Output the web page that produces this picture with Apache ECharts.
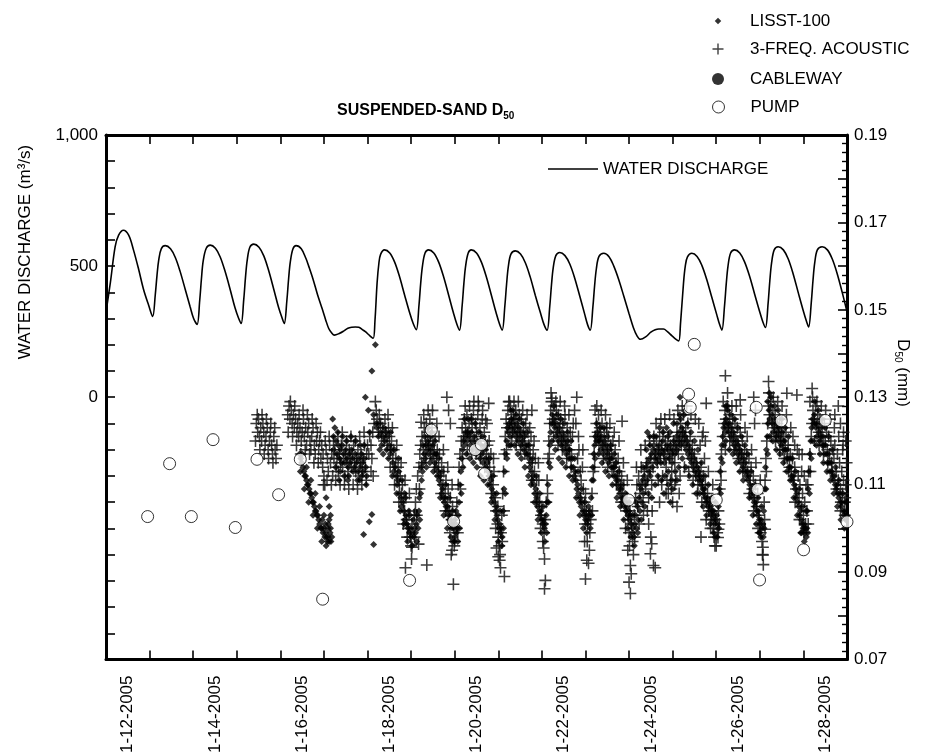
<!DOCTYPE html>
<html>
<head>
<meta charset="utf-8">
<title>Suspended-sand D50</title>
<script src="https://cdn.jsdelivr.net/npm/echarts@6/dist/echarts.min.js"></script>
<style>
  html, body { margin: 0; padding: 0; background: #fff; }
  #main { width: 938px; height: 756px; }
</style>
</head>
<body>
<div id="main"></div>
<script>
/* x values are decimal days of January 2005 */
var DAY_MIN = 12, DAY_MAX = 29;
var dateLabelDays = [12.5, 14.5, 16.5, 18.5, 20.5, 22.5, 24.5, 26.5, 28.5];

// water discharge, m3/s
var discharge = [
  [12.00,325],[12.10,437],[12.21,574],[12.29,618],[12.40,637],[12.52,618],[12.63,562],[12.75,487],[12.86,412],[12.98,350],
  [13.07,308],[13.13,390],[13.17,465],[13.21,524],[13.27,567],[13.36,578],[13.48,566],[13.59,533],[13.70,480],[13.82,410],[13.93,345],[14.01,300],
  [14.09,278],[14.15,369],[14.19,453],[14.23,520],[14.30,568],[14.39,580],[14.51,568],[14.62,535],[14.73,481],[14.85,410],[14.96,341],[15.04,302],
  [15.10,281],[15.16,372],[15.20,457],[15.24,523],[15.30,572],[15.39,584],[15.51,572],[15.62,539],[15.73,484],[15.85,411],[15.96,342],[16.04,302],
  [16.09,281],[16.15,370],[16.19,453],[16.23,518],[16.29,566],[16.36,578],[16.48,566],[16.59,528],[16.65,500],[16.75,450],[16.85,393],[16.96,337],
  [17.04,295],[17.11,262],[17.17,247],[17.24,237],[17.35,243],[17.45,252],[17.55,263],[17.64,267],[17.72,268],[17.80,267],[17.88,258],[17.95,250],[18.05,235],
  [18.13,225],[18.17,290],[18.22,437],[18.26,510],[18.30,545],[18.39,562],[18.51,550],[18.62,516],[18.73,462],[18.85,390],[18.97,320],[19.05,280],
  [19.12,258],[19.18,350],[19.22,435],[19.26,500],[19.32,550],[19.40,562],[19.52,550],[19.63,516],[19.74,462],[19.86,390],[19.97,322],[20.05,278],
  [20.11,256],[20.17,348],[20.21,433],[20.25,500],[20.31,550],[20.38,562],[20.50,550],[20.61,516],[20.72,462],[20.84,390],[20.95,322],[21.03,278],
  [21.09,256],[21.15,347],[21.19,431],[21.23,498],[21.29,546],[21.39,558],[21.51,546],[21.62,513],[21.73,460],[21.85,388],[21.97,320],[22.05,277],
  [22.12,256],[22.18,345],[22.22,428],[22.26,493],[22.32,540],[22.41,552],[22.53,540],[22.64,508],[22.75,456],[22.87,385],[22.98,318],[23.05,276],
  [23.11,256],[23.17,344],[23.21,426],[23.25,490],[23.31,537],[23.42,549],[23.54,536],[23.65,500],[23.76,450],[23.88,385],[24.00,318],[24.10,265],
  [24.18,235],[24.26,221],[24.38,230],[24.50,248],[24.60,257],[24.68,260],[24.79,260],[24.88,250],[24.98,235],[25.07,222],
  [25.14,215],[25.18,280],[25.25,437],[25.29,500],[25.34,535],[25.44,549],[25.56,537],[25.67,503],[25.78,450],[25.90,380],[26.01,316],[26.08,276],
  [26.13,256],[26.19,348],[26.23,433],[26.27,500],[26.33,550],[26.42,562],[26.54,550],[26.65,516],[26.76,464],[26.88,394],[26.99,330],[27.07,287],
  [27.13,266],[27.19,358],[27.23,445],[27.27,512],[27.33,562],[27.42,574],[27.54,562],[27.65,528],[27.76,473],[27.88,400],[27.99,334],[28.07,290],
  [28.12,268],[28.18,360],[28.22,446],[28.26,513],[28.32,562],[28.43,574],[28.55,562],[28.66,528],[28.77,474],[28.89,400],[29.00,326]
];

// LISST-100 D50, mm (core of each daily band)
var lisst = [
  [16.44,.117],[16.47,.116],[16.49,.115],[16.52,.114],[16.54,.113],[16.56,.112],[16.58,.112],[16.60,.111],[16.62,.110],[16.64,.110],
  [16.66,.109],[16.68,.108],[16.70,.108],[16.72,.107],[16.74,.106],[16.76,.106],[16.78,.105],[16.80,.104],[16.82,.104],[16.84,.103],
  [16.86,.103],[16.88,.102],[16.90,.101],[16.93,.100],[16.95,.100],[16.98,.099],[17.00,.100],[17.02,.098],[17.04,.099],[17.06,.098],
  [17.08,.097],[17.10,.098],[17.12,.097],[17.14,.099],[17.16,.097],[16.96,.102],[17.03,.101],[17.09,.100],[17.12,.102],[17.05,.107],[17.12,.105],[17.15,.103],
  [17.20,.125],[17.25,.123],[17.22,.118],[17.28,.120],[17.30,.117],[17.33,.119],[17.36,.116],[17.38,.118],[17.40,.115],[17.42,.119],
  [17.45,.117],[17.48,.115],[17.50,.118],[17.53,.116],[17.56,.114],[17.58,.117],[17.60,.115],[17.63,.118],[17.66,.116],[17.70,.114],
  [17.72,.117],[17.75,.115],[17.78,.113],[17.80,.116],[17.83,.114],[17.86,.117],[17.88,.115],[17.90,.113],[17.93,.116],[17.96,.114],
  [17.35,.111],[17.55,.111],[17.82,.111],[17.98,.112],
  [18.10,.136],[18.18,.142],[17.95,.130],[18.02,.127],[18.14,.126],[18.20,.124],[18.05,.122],[18.10,.1032],[18.04,.1015],[17.91,.0986],[18.14,.0963],
  [18.22,.123],[18.25,.121],[18.27,.124],[18.30,.122],[18.32,.119],[18.35,.121],[18.38,.123],[18.40,.120],[18.42,.122],[18.44,.118],[18.28,.118],[18.36,.117],
  [18.46,.121],[18.50,.119],[18.52,.117],[18.55,.118],[18.58,.115],[18.60,.113],[18.63,.114],[18.66,.112],[18.68,.110],[18.70,.111],
  [18.73,.108],[18.76,.107],[18.78,.105],[18.80,.106],[18.83,.104],[18.86,.102],[18.88,.103],[18.90,.101],[18.93,.100],[18.96,.099],
  [18.98,.100],[19.00,.098],[19.03,.099],[18.72,.113],[18.85,.108],[18.95,.104],
  [19.06,.098],[19.08,.100],[19.10,.099],[19.12,.101],[19.14,.103],[19.16,.100],[19.18,.104],[19.20,.102],
  [19.22,.108],[19.24,.111],[19.26,.113],[19.28,.115],[19.30,.117],[19.32,.116],[19.34,.119],[19.36,.118],[19.38,.120],[19.40,.117],
  [19.42,.119],[19.44,.121],[19.46,.118],[19.48,.116],[19.50,.119],[19.52,.117],[19.54,.115],[19.56,.117],[19.58,.114],[19.60,.112],
  [19.62,.113],[19.64,.111],[19.66,.112],[19.68,.110],[19.70,.108],[19.72,.109],[19.74,.107],[19.76,.106],[19.78,.107],[19.80,.105],
  [19.82,.104],[19.84,.105],[19.86,.103],[19.88,.102],[19.90,.103],[19.92,.101],[19.94,.100],[19.96,.101],[19.98,.100],[20.00,.102],
  [20.02,.101],[20.04,.099],[20.06,.100],[19.95,.097],[20.00,.098],
  [20.08,.103],[20.10,.106],[20.12,.110],[20.14,.113],[20.16,.116],[20.18,.118],[20.20,.120],[20.22,.119],[20.24,.121],[20.26,.122],[20.28,.120],[20.30,.122],
  [20.33,.121],[20.36,.119],[20.38,.122],[20.40,.120],[20.42,.118],[20.45,.121],[20.48,.119],[20.50,.117],[20.52,.120],[20.55,.118],
  [20.58,.116],[20.60,.119],[20.62,.117],[20.65,.115],[20.68,.118],[20.70,.116],[20.72,.114],
  [20.75,.115],[20.77,.113],[20.79,.112],[20.81,.110],[20.83,.111],[20.85,.109],[20.87,.107],[20.89,.108],[20.91,.106],[20.93,.104],
  [20.95,.105],[20.97,.103],[20.99,.102],[21.01,.100],[21.03,.101],[21.05,.099],[21.07,.100],[21.09,.098],
  [21.11,.104],[21.13,.109],[21.15,.113],[21.17,.117],[21.19,.120],[21.21,.123],[21.23,.122],[21.25,.124],[21.27,.121],[21.29,.123],[21.28,.127],[21.30,.125],
  [21.32,.124],[21.34,.122],[21.36,.125],[21.38,.123],[21.40,.121],[21.42,.124],[21.44,.122],[21.46,.120],[21.48,.123],[21.50,.121],
  [21.52,.119],[21.54,.122],[21.56,.120],[21.58,.118],[21.60,.121],[21.62,.119],[21.64,.117],[21.66,.119],[21.68,.117],
  [21.70,.116],[21.72,.114],[21.74,.115],[21.76,.113],[21.78,.111],[21.80,.112],[21.82,.110],[21.84,.108],[21.86,.109],[21.88,.107],
  [21.90,.105],[21.92,.106],[21.94,.104],[21.96,.103],[21.98,.104],[22.00,.102],[22.02,.101],[22.04,.102],[22.06,.100],[22.08,.101],[22.10,.103],
  [22.12,.106],[22.14,.110],[22.16,.115],[22.18,.119],[22.20,.122],[22.22,.124],[22.24,.126],[22.26,.124],[22.28,.125],
  [22.30,.123],[22.32,.121],[22.34,.124],[22.36,.122],[22.38,.120],[22.40,.123],[22.42,.121],[22.44,.119],[22.46,.122],[22.48,.120],
  [22.50,.118],[22.52,.121],[22.54,.119],[22.56,.117],[22.58,.120],[22.60,.118],[22.62,.116],[22.64,.118],[22.66,.116],[22.68,.114],[22.70,.116],
  [22.72,.114],[22.74,.112],[22.76,.113],[22.78,.111],[22.80,.109],[22.82,.110],[22.84,.108],[22.86,.106],[22.88,.107],[22.90,.105],
  [22.92,.106],[22.94,.104],[22.96,.103],[22.98,.104],[23.00,.102],[23.02,.103],[23.04,.101],[23.06,.102],[23.08,.103],[23.10,.104],
  [23.13,.107],[23.15,.111],[23.17,.114],[23.19,.117],[23.21,.119],[23.23,.121],[23.25,.120],[23.27,.122],[23.29,.120],[23.31,.121],
  [23.33,.120],[23.35,.118],[23.37,.121],[23.39,.119],[23.41,.117],[23.43,.120],[23.45,.118],[23.47,.116],[23.49,.119],[23.51,.117],
  [23.53,.115],[23.55,.118],[23.57,.116],[23.59,.114],[23.61,.116],[23.63,.114],[23.65,.112],[23.67,.114],[23.69,.112],
  [23.71,.111],[23.73,.110],[23.75,.111],[23.77,.109],[23.79,.108],[23.81,.109],[23.83,.107],[23.85,.106],[23.87,.107],[23.89,.105],
  [23.91,.106],[23.93,.104],[23.95,.105],[23.97,.103],[23.99,.104],[24.01,.102],[24.03,.103],
  [24.05,.101],[24.07,.099],[24.09,.100],[24.11,.098],[24.13,.101],[24.15,.103],[24.17,.100],[24.19,.105],[24.21,.102],[24.23,.107],
  [24.25,.104],[24.27,.109],[24.29,.106],[24.31,.111],[24.33,.108],[24.35,.112],[24.37,.110],[24.39,.114],[24.41,.111],[24.43,.115],
  [24.45,.113],[24.47,.116],[24.49,.112],[24.51,.117],[24.53,.114],[24.55,.118],[24.42,.122],[24.47,.121],[24.57,.119],[24.59,.116],
  [24.61,.117],[24.63,.115],[24.65,.118],[24.67,.116],[24.69,.119],[24.71,.117],[24.73,.115],[24.75,.118],[24.77,.120],[24.79,.117],
  [24.81,.115],[24.83,.118],[24.85,.116],[24.87,.119],[24.89,.121],[24.91,.118],[24.93,.116],[24.95,.119],[24.97,.117],[24.99,.115],
  [25.01,.118],[25.03,.120],[25.05,.117],[25.07,.119],[25.09,.121],[25.11,.118],[25.13,.120],[25.15,.122],[25.17,.119],[25.19,.121],
  [25.21,.123],[25.23,.120],[25.25,.122],[25.27,.119],[25.29,.121],[25.31,.118],[25.33,.120],[25.35,.117],[25.37,.119],[25.39,.116],
  [25.41,.118],[25.43,.115],[25.45,.117],[25.47,.114],[25.49,.116],[25.51,.113],[25.53,.115],[25.55,.112],[25.57,.114],
  [24.90,.110],[25.00,.109],[24.80,.108],[25.10,.111],[24.95,.106],[25.17,.130],[25.16,.126],
  [25.59,.113],[25.61,.111],[25.63,.112],[25.65,.110],[25.67,.111],[25.69,.109],[25.71,.108],[25.73,.109],[25.75,.107],[25.77,.106],
  [25.79,.107],[25.81,.105],[25.83,.106],[25.85,.104],[25.87,.105],[25.89,.103],[25.91,.104],[25.93,.102],[25.95,.103],[25.97,.101],
  [25.99,.102],[26.01,.103],[26.03,.101],[25.94,.099],[25.98,.098],
  [26.05,.105],[26.07,.109],[26.09,.113],[26.11,.116],[26.13,.119],[26.15,.121],[26.17,.123],[26.19,.124],[26.21,.122],[26.23,.125],
  [26.25,.123],[26.27,.124],[26.22,.128],[26.26,.127],
  [26.29,.122],[26.31,.124],[26.33,.121],[26.35,.123],[26.37,.120],[26.39,.122],[26.41,.119],[26.43,.121],[26.45,.118],[26.47,.120],
  [26.49,.117],[26.51,.119],[26.53,.116],[26.55,.118],[26.57,.115],[26.59,.117],[26.61,.114],[26.63,.116],[26.65,.113],[26.67,.115],
  [26.69,.112],[26.71,.113],[26.73,.111],[26.75,.112],[26.77,.110],[26.79,.108],[26.81,.109],[26.83,.107],[26.85,.108],[26.87,.106],
  [26.89,.105],[26.91,.106],[26.93,.104],[26.95,.103],[26.97,.104],[26.99,.102],[27.01,.101],[27.03,.102],[27.05,.100],[27.07,.101],[26.98,.099],[27.02,.098],
  [27.09,.104],[27.11,.109],[27.13,.114],[27.15,.118],[27.17,.121],[27.19,.124],[27.21,.127],[27.23,.125],[27.25,.128],[27.27,.126],[27.22,.131],[27.18,.129],
  [27.29,.124],[27.31,.122],[27.33,.125],[27.35,.123],[27.37,.121],[27.39,.124],[27.41,.122],[27.43,.120],[27.45,.123],[27.47,.121],
  [27.49,.119],[27.51,.122],[27.53,.120],[27.55,.118],[27.57,.120],[27.59,.118],[27.61,.116],[27.63,.118],[27.65,.116],[27.67,.114],[27.69,.116],[27.71,.114],
  [27.73,.112],[27.75,.111],[27.77,.112],[27.79,.110],[27.81,.109],[27.83,.107],[27.85,.108],[27.87,.106],[27.89,.105],[27.91,.103],
  [27.93,.104],[27.95,.102],[27.97,.101],[27.99,.100],[28.01,.101],[28.03,.099],[28.05,.100],[28.07,.098],[28.02,.097],[27.96,.099],
  [28.09,.104],[28.11,.109],[28.13,.113],[28.15,.117],[28.17,.120],[28.19,.123],[28.21,.125],[28.23,.124],[28.25,.126],[28.27,.124],
  [28.29,.123],[28.31,.121],[28.33,.124],[28.35,.122],[28.37,.120],[28.39,.123],[28.41,.121],[28.43,.119],[28.45,.121],[28.47,.119],
  [28.49,.117],[28.51,.119],[28.53,.117],[28.55,.115],[28.57,.117],[28.59,.115],[28.61,.113],[28.63,.115],[28.65,.113],
  [28.67,.112],[28.69,.111],[28.71,.112],[28.73,.110],[28.75,.109],[28.77,.110],[28.79,.108],[28.81,.107],[28.83,.108],[28.85,.106],
  [28.87,.105],[28.89,.106],[28.91,.104],[28.93,.103],[28.95,.104],[28.97,.102],[28.99,.103]
];

// LISST-100 D50, mm (points on the edges of the bands)
var lisstEdges = [
  [16.46,.113],[16.50,.117],[16.55,.109],[16.60,.114],[16.65,.106],[16.70,.111],[16.75,.103],[16.80,.108],[16.85,.100],[16.90,.105],
  [16.95,.097],[17.00,.103],[17.05,.096],[17.10,.101],[17.15,.100],[17.18,.098],
  [17.22,.121],[17.27,.114],[17.32,.122],[17.37,.113],[17.43,.121],[17.47,.112],[17.52,.120],[17.57,.112],[17.62,.121],[17.67,.113],
  [17.73,.120],[17.77,.111],[17.83,.119],[17.87,.112],[17.92,.119],[17.97,.110],
  [18.48,.116],[18.53,.122],[18.57,.112],[18.62,.118],[18.67,.108],[18.71,.116],[18.75,.104],[18.79,.111],[18.84,.101],[18.87,.107],
  [18.92,.097],[18.97,.103],[19.02,.096],[19.05,.102],
  [19.09,.104],[19.13,.097],[19.19,.107],[19.23,.114],[19.27,.119],[19.31,.121],[19.35,.114],[19.39,.123],[19.43,.115],[19.47,.122],
  [19.51,.113],[19.55,.120],[19.59,.117],
  [19.63,.116],[19.67,.107],[19.71,.113],[19.75,.103],[19.79,.110],[19.83,.100],[19.87,.107],[19.91,.098],[19.95,.104],[19.99,.097],
  [20.03,.104],[20.07,.097],
  [20.11,.100],[20.15,.108],[20.19,.114],[20.23,.125],[20.27,.117],[20.31,.125],[20.35,.116],[20.39,.125],[20.43,.115],[20.47,.124],
  [20.51,.114],[20.55,.122],[20.59,.112],[20.63,.121],[20.67,.111],[20.71,.119],
  [20.76,.110],[20.80,.116],[20.84,.106],[20.88,.112],[20.92,.102],[20.96,.108],[21.00,.097],[21.04,.104],[21.08,.096],
  [21.12,.100],[21.16,.108],[21.20,.116],[21.24,.119],[21.28,.119],[21.33,.127],[21.37,.119],[21.41,.126],[21.45,.117],[21.49,.125],
  [21.53,.116],[21.57,.124],[21.61,.114],[21.65,.122],[21.69,.112],
  [21.71,.119],[21.75,.110],[21.79,.116],[21.83,.106],[21.87,.112],[21.91,.102],[21.95,.108],[21.99,.099],[22.03,.105],[22.07,.097],[22.11,.099],
  [22.15,.106],[22.19,.114],[22.23,.120],[22.27,.128],[22.31,.118],[22.35,.126],[22.39,.116],[22.43,.125],[22.47,.115],[22.51,.124],
  [22.55,.114],[22.59,.122],[22.63,.112],[22.67,.120],[22.71,.111],
  [22.75,.116],[22.79,.107],[22.83,.113],[22.87,.103],[22.91,.109],[22.95,.100],[22.99,.106],[23.03,.099],[23.07,.105],[23.11,.100],
  [23.14,.103],[23.18,.111],[23.22,.116],[23.26,.124],[23.30,.117],[23.34,.123],[23.38,.115],[23.42,.123],[23.46,.113],[23.50,.121],
  [23.54,.112],[23.58,.119],[23.62,.110],[23.66,.117],[23.70,.115],
  [23.72,.107],[23.76,.113],[23.80,.105],[23.84,.110],[23.88,.102],[23.92,.108],[23.96,.100],[24.00,.106],[24.04,.098],
  [24.08,.103],[24.12,.096],[24.16,.106],[24.20,.099],[24.24,.110],[24.28,.102],[24.32,.114],[24.36,.105],[24.40,.118],[24.44,.108],
  [24.48,.119],[24.52,.107],[24.56,.121],[24.60,.110],
  [24.62,.121],[24.66,.112],[24.70,.123],[24.74,.111],[24.78,.122],[24.82,.112],[24.86,.123],[24.90,.113],[24.94,.122],[24.98,.111],
  [25.02,.124],[25.06,.113],[25.10,.124],[25.14,.114],[25.18,.125],[25.22,.116],[25.26,.126],[25.30,.114],[25.34,.124],[25.38,.112],
  [25.42,.122],[25.46,.110],[25.50,.120],[25.54,.108],[25.58,.118],
  [25.62,.108],[25.66,.115],[25.70,.105],[25.74,.112],[25.78,.103],[25.82,.110],[25.86,.101],[25.90,.107],[25.94,.104],[25.98,.106],[26.02,.098],
  [26.06,.100],[26.10,.108],[26.14,.115],[26.18,.119],[26.22,.120],[26.26,.128],[26.30,.118],[26.34,.126],[26.38,.117],[26.42,.125],
  [26.46,.115],[26.50,.123],[26.54,.113],[26.58,.121],[26.62,.111],[26.66,.119],
  [26.72,.117],[26.76,.107],[26.80,.113],[26.84,.103],[26.88,.110],[26.92,.101],[26.96,.107],[27.00,.099],[27.04,.105],[27.08,.098],
  [27.10,.100],[27.14,.109],[27.18,.117],[27.22,.121],[27.26,.130],[27.30,.120],[27.34,.128],[27.38,.118],[27.42,.127],[27.46,.117],
  [27.50,.125],[27.54,.115],[27.58,.123],[27.62,.113],[27.66,.121],[27.70,.111],
  [27.74,.116],[27.78,.107],[27.82,.113],[27.86,.103],[27.90,.109],[27.94,.099],[27.98,.105],[28.02,.100],[28.06,.104],[28.08,.100],
  [28.10,.099],[28.14,.108],[28.18,.116],[28.22,.120],[28.26,.129],[28.30,.119],[28.34,.127],[28.38,.117],[28.42,.125],[28.46,.115],
  [28.50,.123],[28.54,.113],[28.58,.121],[28.62,.111],[28.66,.118],
  [28.70,.108],[28.74,.114],[28.78,.105],[28.82,.111],[28.86,.102],[28.90,.108],[28.94,.100],[28.98,.106]
];

// 3-frequency acoustic D50, mm
var acoustic = [
  [15.45,.124],[15.48,.122],[15.50,.125],[15.52,.121],[15.55,.123],[15.57,.120],[15.60,.124],[15.62,.122],[15.65,.119],[15.67,.121],
  [15.70,.123],[15.72,.118],[15.75,.120],[15.77,.122],[15.80,.119],[15.82,.117],[15.85,.121],[15.88,.118],[15.90,.116],[15.92,.119],
  [16.17,.126],[16.20,.128],[16.22,.125],[16.25,.127],[16.27,.124],[16.30,.126],[16.32,.123],[16.35,.125],[16.38,.122],[16.40,.124],
  [16.42,.121],[16.45,.123],[16.48,.120],[16.50,.122],[16.53,.125],[16.55,.121],[16.58,.123],[16.60,.119],[16.63,.122],[16.65,.124],
  [16.68,.120],[16.70,.118],[16.72,.121],[16.75,.123],[16.78,.119],[16.80,.117],[16.83,.120],[16.85,.122],[16.88,.118],[16.90,.120],
  [16.93,.116],[16.95,.119],[16.98,.117],[17.00,.112],[17.02,.110],
  [17.05,.118],[17.08,.116],[17.10,.113],[17.13,.119],[17.15,.115],[17.18,.117],[17.20,.112],[17.23,.116],[17.25,.118],[17.28,.114],
  [17.30,.116],[17.33,.113],[17.35,.117],[17.38,.115],[17.40,.119],[17.43,.114],[17.45,.116],[17.48,.112],[17.50,.117],[17.53,.115],
  [17.55,.113],[17.58,.118],[17.60,.116],[17.63,.114],[17.65,.117],[17.68,.119],[17.70,.115],[17.73,.113],[17.75,.116],[17.78,.118],
  [17.80,.112],[17.83,.115],[17.85,.117],[17.88,.113],[17.90,.116],[17.93,.119],[17.95,.114],[17.98,.117],
  [18.00,.119],[18.03,.117],[18.05,.121],[18.08,.119],[18.10,.116],[18.12,.122],[18.15,.124],[18.18,.129],[18.20,.127],[18.22,.125],
  [18.25,.122],[18.27,.126],[18.30,.124],[18.32,.121],[18.35,.123],[18.38,.120],[18.40,.125],[18.42,.122],[18.45,.119],[18.13,.112],[18.08,.113],
  [18.48,.123],[18.50,.121],[18.53,.118],[18.55,.120],[18.58,.116],[18.60,.118],[18.63,.114],[18.65,.116],[18.68,.112],[18.70,.114],
  [18.73,.110],[18.75,.112],[18.78,.108],[18.80,.110],[18.83,.106],[18.85,.104],[18.88,.107],[18.90,.102],[18.93,.100],[18.95,.103],
  [18.98,.098],[19.00,.096],[19.02,.101],[18.87,.091],[19.02,.0957],[19.17,.0964],[19.36,.0916],
  [19.07,.103],[19.10,.106],[19.12,.109],[19.15,.112],[19.18,.114],[19.20,.117],[19.22,.119],[19.25,.121],[19.28,.118],[19.30,.123],
  [19.33,.120],[19.35,.124],[19.38,.122],[19.40,.119],[19.43,.125],[19.45,.121],[19.48,.123],[19.23,.1243],
  [19.50,.120],[19.53,.118],[19.55,.121],[19.58,.116],[19.60,.118],[19.63,.114],[19.65,.117],[19.68,.112],[19.70,.115],[19.73,.110],
  [19.75,.113],[19.78,.108],[19.80,.111],[19.83,.106],[19.85,.109],[19.88,.104],[19.90,.107],[19.93,.102],[19.95,.105],[19.98,.100],
  [20.00,.097],[20.02,.103],[19.82,.130],[19.86,.127],[19.90,.124],[19.94,.095],[19.92,.094],[19.97,.0872],
  [20.05,.106],[20.08,.110],[20.10,.114],[20.12,.117],[20.15,.120],[20.17,.123],[20.20,.121],[20.22,.125],[20.25,.123],[20.28,.126],
  [20.30,.122],[20.33,.124],
  [20.35,.121],[20.38,.125],[20.40,.123],[20.43,.127],[20.45,.120],[20.48,.124],[20.50,.122],[20.53,.126],[20.55,.119],[20.58,.123],
  [20.60,.121],[20.63,.125],[20.65,.118],[20.68,.122],[20.70,.120],[20.73,.117],[20.55,.128],[20.78,.1286],[20.71,.1248],
  [20.75,.119],[20.78,.116],[20.80,.114],[20.83,.117],[20.85,.112],[20.88,.110],[20.90,.113],[20.93,.107],[20.95,.104],[20.98,.101],
  [21.00,.098],[21.02,.096],[21.04,.094],[21.06,.099],[20.96,.0955],[21.00,.0935],[21.03,.0927],[21.08,.103],[21.14,.089],
  [21.10,.108],[21.12,.113],[21.14,.117],[21.16,.121],[21.18,.125],[21.20,.123],[21.22,.127],[21.25,.124],[21.28,.128],[21.24,.129],
  [21.30,.125],[21.33,.122],[21.35,.126],[21.38,.123],[21.40,.127],[21.43,.121],[21.45,.124],[21.48,.126],[21.50,.122],[21.53,.125],
  [21.55,.120],[21.58,.123],[21.60,.121],[21.63,.124],[21.65,.118],[21.68,.122],
  [21.70,.119],[21.73,.117],[21.75,.121],[21.78,.115],[21.80,.118],[21.83,.113],[21.85,.116],[21.88,.111],[21.90,.108],[21.93,.111],
  [21.95,.106],[21.98,.103],[22.00,.105],[22.02,.101],[22.05,.099],[22.07,.102],[21.77,.127],[22.04,.0955],[22.08,.0881],[22.06,.0862],
  [22.10,.106],[22.12,.111],[22.14,.116],[22.16,.120],[22.18,.124],[22.20,.127],[22.22,.129],[22.25,.125],[22.28,.128],[22.23,.1298],
  [22.30,.124],[22.33,.127],[22.35,.122],[22.38,.126],[22.40,.123],[22.43,.125],[22.45,.120],[22.48,.124],[22.50,.121],[22.53,.126],
  [22.55,.119],[22.58,.123],[22.60,.120],[22.63,.118],[22.65,.122],[22.68,.117],[22.70,.121],[22.75,.127],[22.80,.130],[22.78,.124],
  [22.82,.116],[22.85,.118],[22.88,.113],[22.90,.111],[22.93,.114],[22.95,.109],[22.98,.106],[23.00,.108],[23.02,.104],[23.05,.101],
  [23.08,.103],[23.10,.099],[23.03,.0927],[23.07,.092],[23.00,.0884],[22.98,.097],
  [23.15,.108],[23.18,.113],[23.20,.117],[23.22,.121],[23.25,.124],[23.28,.122],[23.30,.126],[23.33,.123],[23.22,.1271],[23.49,.123],
  [23.35,.121],[23.38,.124],[23.40,.119],[23.43,.122],[23.45,.120],[23.48,.123],[23.50,.118],[23.53,.121],[23.55,.116],[23.58,.119],
  [23.60,.117],[23.63,.120],[23.65,.114],[23.68,.118],[23.70,.115],[23.73,.112],[23.84,.1245],
  [23.75,.116],[23.78,.113],[23.80,.110],[23.83,.112],[23.85,.108],[23.88,.110],[23.90,.106],[23.93,.104],[23.95,.107],[23.98,.102],
  [24.00,.099],[24.02,.104],[24.05,.101],[24.08,.097],[24.10,.094],[23.97,.095],[24.03,.0915],[24.05,.0896],[24.00,.0877],[24.03,.0851],
  [24.12,.103],[24.15,.107],[24.18,.110],[24.20,.105],[24.22,.112],[24.25,.108],[24.28,.114],[24.30,.110],[24.32,.106],[24.35,.113],
  [24.38,.109],[24.40,.115],[24.43,.111],[24.45,.107],[24.48,.113],[24.50,.116],[24.52,.110],[24.55,.114],[24.45,.101],[24.50,.098],
  [24.49,.0942],[24.56,.0915],[24.60,.091],[24.52,.0965],
  [24.60,.117],[24.63,.120],[24.65,.115],[24.68,.118],[24.70,.121],[24.72,.116],[24.75,.119],[24.78,.122],[24.80,.117],[24.83,.120],
  [24.85,.114],[24.88,.118],[24.90,.121],[24.92,.116],[24.95,.119],[24.98,.113],[25.00,.117],[25.02,.120],[25.05,.115],[25.08,.118],
  [25.10,.122],[25.13,.117],[25.15,.120],[25.18,.124],[25.20,.119],[25.23,.122],[25.25,.126],[25.28,.121],[24.75,.110],[24.85,.108],
  [24.95,.111],[25.05,.110],[24.70,.106],[24.90,.108],[25.00,.106],[25.10,.105],[25.15,.108],
  [25.30,.123],[25.33,.120],[25.35,.124],[25.38,.118],[25.40,.121],[25.43,.116],[25.45,.119],[25.48,.114],[25.50,.117],[25.53,.112],
  [25.55,.115],[25.58,.110],[25.60,.113],[25.65,.098],[25.60,.124],[25.68,.121],
  [25.62,.112],[25.65,.114],[25.68,.110],[25.70,.112],[25.72,.108],[25.75,.110],[25.78,.106],[25.80,.108],[25.83,.104],[25.85,.106],
  [25.88,.102],[25.90,.104],[25.93,.100],[25.95,.098],[25.98,.102],[26.00,.096],[26.02,.099],[25.77,.1286],[25.70,.122],[25.75,.120],
  [26.04,.0979],[26.05,.0998],
  [26.05,.104],[26.08,.109],[26.10,.113],[26.12,.117],[26.15,.121],[26.18,.124],[26.20,.127],[26.22,.125],[26.25,.128],[26.21,.1349],
  [26.28,.123],[26.30,.126],
  [26.35,.122],[26.38,.125],[26.40,.121],[26.43,.124],[26.45,.119],[26.48,.123],[26.50,.120],[26.53,.118],[26.55,.122],[26.58,.117],
  [26.60,.120],[26.63,.115],[26.65,.118],[26.68,.114],[26.70,.117],[26.55,.1294],
  [26.72,.113],[26.75,.116],[26.78,.111],[26.80,.114],[26.83,.109],[26.85,.112],[26.88,.107],[26.90,.110],[26.93,.105],[26.95,.108],
  [26.98,.103],[27.00,.101],[27.02,.099],[27.05,.097],[26.86,.130],[26.90,.127],[26.88,.124],[27.07,.0957],[27.07,.0939],[27.08,.0917],
  [27.12,.0998],
  [27.10,.106],[27.12,.111],[27.14,.116],[27.16,.120],[27.18,.124],[27.20,.128],[27.22,.126],[27.25,.129],[27.28,.124],[27.20,.1336],
  [27.30,.127],[27.33,.123],[27.35,.126],[27.38,.121],[27.40,.124],[27.43,.122],[27.45,.125],[27.48,.120],[27.50,.123],[27.53,.118],
  [27.55,.121],[27.58,.119],[27.60,.122],[27.62,.1309],[27.63,.116],[27.65,.119],[27.68,.114],[27.70,.117],[27.72,.113],
  [27.75,.116],[27.78,.111],[27.80,.114],[27.83,.109],[27.85,.1305],[27.88,.112],[27.90,.107],[27.92,.110],[27.95,.105],[27.98,.108],
  [28.00,.103],[28.03,.106],[28.05,.101],[28.08,.104],[27.80,.119],[27.90,.117],[27.97,.1169],[28.02,.112],
  [28.10,.110],[28.12,.113],[28.15,.117],[28.18,.121],[28.20,.124],[28.22,.127],[28.25,.125],[28.28,.128],[28.30,.124],[28.20,.132],[28.15,.129],
  [28.33,.126],[28.35,.122],[28.38,.125],[28.40,.121],[28.43,.123],[28.45,.119],[28.48,.124],[28.50,.120],[28.53,.122],[28.55,.118],
  [28.58,.121],[28.60,.117],[28.63,.120],[28.65,.115],[28.68,.118],
  [28.70,.116],[28.72,.119],[28.75,.113],[28.78,.117],[28.80,.111],[28.83,.115],[28.85,.109],[28.88,.113],[28.90,.108],[28.92,.111],
  [28.95,.106],[28.97,.110],[28.72,.126],[28.80,.128],[28.85,.124],[28.92,.122],[28.97,.120],[28.90,.118],[28.85,.104],[28.95,.103]
];

// 3-frequency acoustic D50, mm (outer spread of the bands)
var acousticSpread = [
  [15.43,.120],[15.47,.126],[15.53,.118],[15.58,.126],[15.63,.117],[15.68,.125],[15.73,.116],[15.78,.124],[15.83,.115],[15.87,.123],
  [16.18,.122],[16.23,.129],[16.28,.121],[16.33,.128],[16.37,.119],[16.43,.126],[16.47,.117],[16.52,.127],[16.57,.118],[16.62,.126],
  [16.67,.117],[16.73,.125],[16.77,.115],[16.82,.124],[16.87,.115],[16.92,.122],[16.97,.114],[16.99,.110],
  [17.03,.120],[17.07,.111],[17.12,.121],[17.17,.110],[17.22,.120],[17.27,.111],[17.32,.121],[17.37,.110],[17.42,.122],[17.47,.110],
  [17.52,.120],[17.57,.109],[17.62,.121],[17.67,.110],[17.72,.120],[17.77,.109],[17.82,.121],[17.87,.110],[17.92,.122],[17.97,.111],
  [18.47,.126],[18.52,.114],[18.57,.123],[18.62,.110],[18.67,.119],[18.72,.106],[18.77,.115],[18.82,.101],[18.86,.111],[18.91,.098],
  [18.96,.108],[19.01,.093],
  [19.08,.098],[19.13,.103],[19.19,.109],[19.24,.115],[19.29,.126],[19.34,.116],[19.39,.127],[19.44,.117],[19.49,.127],[19.54,.114],[19.59,.124],
  [19.64,.121],[19.69,.108],[19.74,.118],[19.79,.104],[19.84,.114],[19.89,.099],[19.94,.110],[19.99,.096],[20.04,.100],
  [20.07,.099],[20.13,.109],[20.18,.116],[20.24,.128],[20.29,.118],[20.34,.128],[20.39,.117],[20.44,.129],[20.49,.117],[20.54,.129],
  [20.59,.116],[20.64,.127],[20.69,.114],[20.74,.124],
  [20.79,.120],[20.84,.108],[20.89,.116],[20.94,.100],[20.99,.105],[21.05,.091],[21.09,.097],
  [21.13,.104],[21.19,.118],[21.26,.129],[21.31,.120],[21.36,.129],[21.41,.119],[21.46,.129],[21.51,.118],[21.56,.127],[21.61,.117],[21.66,.126],
  [21.72,.123],[21.77,.111],[21.82,.120],[21.87,.106],[21.92,.115],[21.97,.100],[22.02,.097],[22.06,.093],
  [22.13,.108],[22.17,.117],[22.21,.131],[22.27,.121],[22.32,.129],[22.37,.119],[22.42,.129],[22.47,.118],[22.52,.128],[22.57,.116],
  [22.62,.126],[22.67,.114],[22.72,.124],[22.77,.112],
  [22.84,.121],[22.89,.107],[22.94,.118],[22.99,.101],[23.04,.097],[23.09,.095],[23.12,.102],
  [23.16,.104],[23.21,.114],[23.26,.128],[23.31,.119],[23.36,.127],[23.41,.116],[23.46,.126],[23.51,.114],[23.56,.124],[23.61,.113],
  [23.66,.122],[23.71,.110],
  [23.77,.120],[23.82,.106],[23.87,.115],[23.92,.100],[23.96,.111],[24.01,.096],
  [24.13,.098],[24.17,.114],[24.23,.101],[24.27,.118],[24.33,.103],[24.37,.119],[24.42,.104],[24.47,.120],[24.53,.104],[24.57,.121],
  [24.62,.124],[24.67,.111],[24.73,.125],[24.77,.112],[24.82,.125],[24.87,.111],[24.93,.126],[24.97,.109],[25.03,.125],[25.07,.111],
  [25.12,.127],[25.17,.112],[25.22,.128],[25.27,.114],[25.32,.128],[25.37,.113],[25.42,.126],[25.47,.111],[25.52,.125],[25.57,.108],
  [25.63,.119],[25.67,.106],[25.73,.116],[25.77,.102],[25.82,.113],[25.87,.100],[25.92,.110],[25.97,.096],
  [26.07,.101],[26.11,.111],[26.16,.129],[26.21,.118],[26.26,.131],[26.31,.120],[26.36,.128],[26.41,.118],[26.46,.128],[26.51,.116],
  [26.56,.126],[26.61,.113],[26.66,.123],
  [26.71,.121],[26.76,.108],[26.81,.118],[26.86,.104],[26.91,.115],[26.96,.100],[27.01,.111],[27.06,.094],
  [27.11,.102],[27.15,.113],[27.21,.131],[27.26,.121],[27.31,.130],[27.36,.120],[27.41,.129],[27.46,.118],[27.51,.128],[27.56,.116],
  [27.61,.126],[27.66,.113],[27.71,.123],
  [27.76,.121],[27.81,.106],[27.86,.118],[27.91,.102],[27.96,.113],[28.01,.099],[28.06,.110],
  [28.11,.101],[28.16,.113],[28.21,.130],[28.26,.120],[28.31,.129],[28.36,.119],[28.41,.128],[28.46,.117],[28.51,.127],[28.56,.115],
  [28.61,.125],[28.66,.113],
  [28.71,.123],[28.76,.109],[28.81,.121],[28.86,.106],[28.91,.119],[28.96,.107],[28.99,.115]
];

// cableway samples (none readable apart from the legend)
var cableway = [];

// pump samples, D50 mm
var pump = [
  [12.955,.1027],[13.459,.1148],[13.957,.1027],[14.455,.1203],[14.966,.1002],[15.464,.1158],[15.960,.1077],[16.457,.1158],[16.970,.0838],
  [18.965,.0881],[19.463,.1225],[19.975,.1016],[20.472,.1180],[20.610,.1192],[20.686,.1125],[23.989,.1065],
  [25.366,.1307],[25.404,.1277],[25.496,.1421],[26.001,.1065],[26.918,.1277],[26.948,.1089],[26.994,.0882],[27.492,.1246],
  [28.004,.0951],[28.501,.1247],[29.000,.1015]
];

var FONT = '"Liberation Sans", Helvetica, Arial, sans-serif';
var plusPath = 'path://M4.35,0H5.65V4.35H10V5.65H5.65V10H4.35V5.65H0V4.35H4.35Z';
var diamondPath = 'path://M5,0L10,5L5,10L0,5Z';

var chartDom = document.getElementById('main');
var myChart = echarts.init(chartDom, null, { renderer: 'canvas' });

// legend rows at the top right: symbol centred on x = 718, text starts at x = 750
function symbolLegend(name, row, size, style) {
  return {
    data: [{ name: name, itemStyle: style }],
    orient: 'vertical',
    left: 718 - size / 2,
    top: row - 10,
    padding: 0,
    itemWidth: 54,
    itemHeight: size,
    selectedMode: false,
    textStyle: { fontSize: 17, fontFamily: FONT, color: '#000', lineHeight: 20 }
  };
}

var frameLine = { show: true, onZero: false, lineStyle: { color: '#000', width: 3 } };
var frameTick = { show: true, inside: true, length: 9, lineStyle: { color: '#000', width: 1.6 } };

var option = {
  animation: false,
  backgroundColor: '#fff',
  title: {
    text: '{a|SUSPENDED-SAND D}{b|50}',
    left: 332,
    top: 96,
    textStyle: {
      rich: {
        a: { fontSize: 16, fontWeight: 'bold', fontFamily: FONT, color: '#000', lineHeight: 20 },
        b: { fontSize: 10, fontWeight: 'bold', fontFamily: FONT, color: '#000', lineHeight: 6, verticalAlign: 'bottom' }
      }
    }
  },
  legend: [
    symbolLegend('LISST-100', 21, 6.5, { color: '#000' }),
    symbolLegend('3-FREQ. ACOUSTIC', 49, 11, { color: '#222' }),
    symbolLegend('CABLEWAY', 79, 12, { color: '#000' }),
    symbolLegend('PUMP', 107, 12, { color: '#fff', borderColor: '#000', borderWidth: 1 }),
    {
      data: [{ name: 'WATER DISCHARGE', icon: 'rect', itemStyle: { color: '#000' } }],
      left: 548,
      top: 159,
      padding: 0,
      itemWidth: 50,
      itemHeight: 1.5,
      selectedMode: false,
      textStyle: { fontSize: 17, fontFamily: FONT, color: '#000', lineHeight: 20 }
    }
  ],
  grid: { left: 106, right: 91, top: 135, bottom: 93, containLabel: false },
  xAxis: [
    {
      type: 'value',
      position: 'bottom',
      min: DAY_MIN,
      max: DAY_MAX,
      interval: 1,
      axisLine: frameLine,
      axisTick: frameTick,
      splitLine: { show: false },
      axisLabel: {
        customValues: dateLabelDays,
        rotate: 90,
        margin: 16,
        color: '#000',
        fontSize: 17,
        fontFamily: FONT,
        formatter: function (v) { return '1-' + Math.floor(v) + '-2005'; }
      }
    },
    {
      type: 'value',
      position: 'top',
      min: DAY_MIN,
      max: DAY_MAX,
      interval: 1,
      axisLine: frameLine,
      axisTick: frameTick,
      axisLabel: { show: false },
      splitLine: { show: false }
    }
  ],
  yAxis: [
    {
      type: 'value',
      position: 'left',
      min: -1000,
      max: 1000,
      interval: 100,
      axisLine: frameLine,
      axisTick: frameTick,
      splitLine: { show: false },
      axisLabel: {
        margin: 8,
        color: '#000',
        fontSize: 17,
        fontFamily: FONT,
        formatter: function (v) {
          if (v === 1000) return '1,000';
          if (v === 500 || v === 0) return String(v);
          return '';
        }
      }
    },
    {
      type: 'value',
      position: 'right',
      min: 0.07,
      max: 0.19,
      interval: 0.01,
      axisLine: frameLine,
      axisTick: frameTick,
      minorTick: { show: true, splitNumber: 5, length: 5, lineStyle: { color: '#000', width: 1.4 } },
      splitLine: { show: false },
      minorSplitLine: { show: false },
      axisLabel: {
        margin: 7,
        color: '#000',
        fontSize: 17,
        fontFamily: FONT,
        formatter: function (v) {
          var k = Math.round(v * 100);
          return k % 2 === 1 ? v.toFixed(2) : '';
        }
      }
    }
  ],
  graphic: [
    {
      type: 'text',
      x: 25,
      y: 252,
      rotation: Math.PI / 2,
      style: {
        text: 'WATER DISCHARGE (m\u00b3/s)',
        fontSize: 17,
        fontFamily: FONT,
        fill: '#000',
        align: 'center',
        verticalAlign: 'middle'
      }
    },
    {
      type: 'text',
      x: 903,
      y: 373,
      rotation: -Math.PI / 2,
      style: {
        text: '{a|D}{b|50}{a| (mm)}',
        align: 'center',
        verticalAlign: 'middle',
        rich: {
          a: { fontSize: 17, fontFamily: FONT, fill: '#000', color: '#000', lineHeight: 20 },
          b: { fontSize: 10, fontFamily: FONT, fill: '#000', color: '#000', lineHeight: 2, verticalAlign: 'bottom' }
        }
      }
    }
  ],
  series: [
    {
      name: 'WATER DISCHARGE',
      type: 'line',
      xAxisIndex: 0,
      yAxisIndex: 0,
      data: discharge,
      smooth: 0.35,
      symbol: 'none',
      lineStyle: { color: '#000', width: 1.6 },
      itemStyle: { color: '#000' },
      z: 3
    },
    {
      name: '3-FREQ. ACOUSTIC',
      type: 'scatter',
      xAxisIndex: 0,
      yAxisIndex: 1,
      data: acoustic.concat(acousticSpread),
      symbol: plusPath,
      symbolSize: 12,
      itemStyle: { color: '#1a1a1a', opacity: 0.85 },
      z: 4
    },
    {
      name: 'LISST-100',
      type: 'scatter',
      xAxisIndex: 0,
      yAxisIndex: 1,
      data: lisst.concat(lisstEdges),
      symbol: diamondPath,
      symbolSize: 7,
      itemStyle: { color: '#000' },
      z: 5
    },
    {
      name: 'CABLEWAY',
      type: 'scatter',
      xAxisIndex: 0,
      yAxisIndex: 1,
      data: cableway,
      symbol: 'circle',
      symbolSize: 12,
      itemStyle: { color: '#000' },
      z: 6
    },
    {
      name: 'PUMP',
      type: 'scatter',
      xAxisIndex: 0,
      yAxisIndex: 1,
      data: pump,
      symbol: 'circle',
      symbolSize: 12,
      itemStyle: { color: '#fff', borderColor: '#000', borderWidth: 1 },
      z: 7
    }
  ]
};

option && myChart.setOption(option);

window.onresize = function () {
  myChart.resize();
};
</script>
</body>
</html>
